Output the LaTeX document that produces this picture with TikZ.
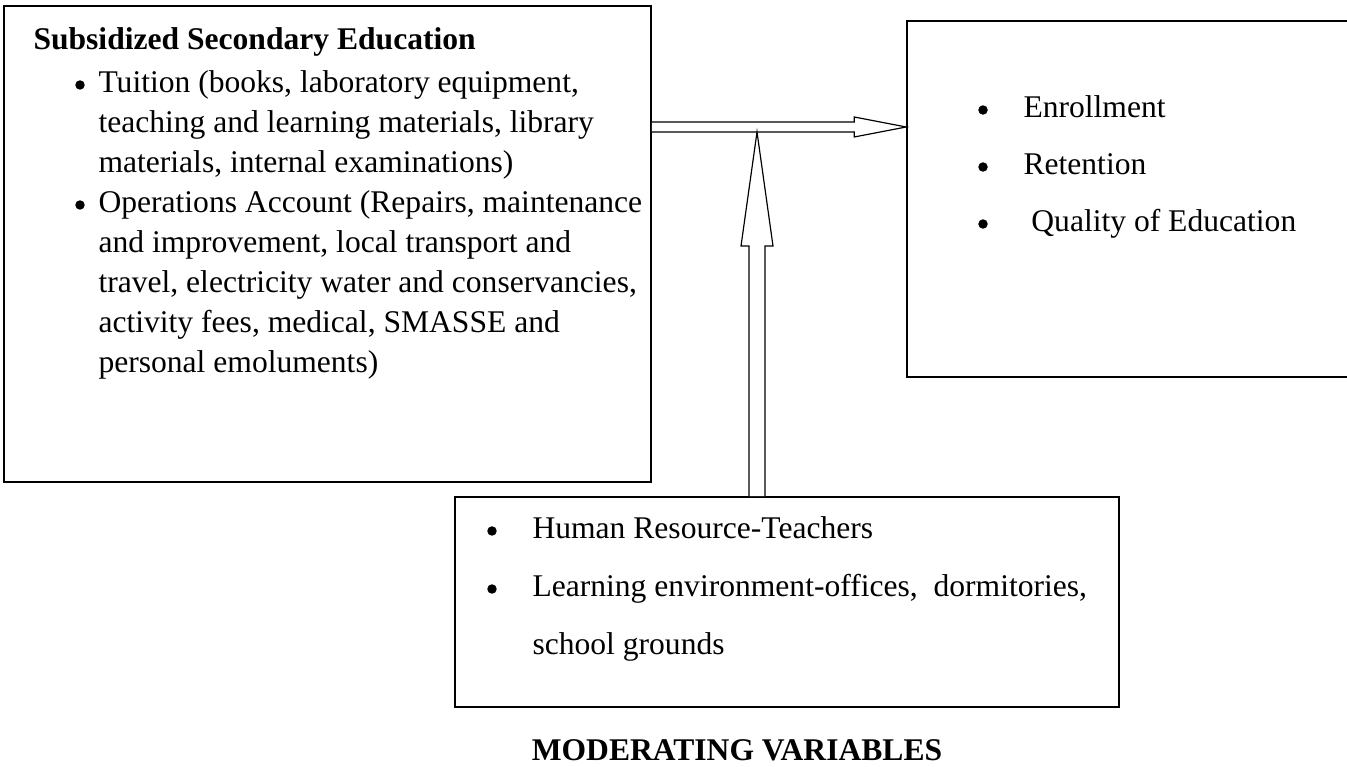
\documentclass[tikz,border=0pt]{standalone}
\usepackage{fontspec}
\setmainfont{Liberation Serif}
\usetikzlibrary{
	positioning,
	calc,
	fit
}
\tikzset{
  % box
	cstbox/.style      ={draw=black,line width=0.6pt,inner sep=0pt},
  % text
	csttext/.style     ={anchor=base west,inner sep=0pt,font=\fontsize{12}{14}\selectfont},
	csthead/.style     ={anchor=base,inner sep=0pt,font=\fontsize{12}{14}\selectfont\bfseries},
  % dot
	cstdot/.style      ={circle,fill=black,inner sep=0pt,minimum size=3.6pt},
  % arrow
	cstarrow/.style    ={draw=black,line width=0.45pt,fill=white,line join=miter}
}

\begin{document}
\begin{tikzpicture}[x=0.38pt,y=-0.38pt]
	\clip (0,0) rectangle (1347,767);
	% boxes
	\node[cstbox,fit={(4,6) (651,482)}] (left) {};
	\node[cstbox,fit={(907,21) (1380,377)}] (right) {};
	\node[cstbox,fit={(455,497) (1119,707)}] (mod) {};
	% left box
	\node[csthead,anchor=base west] (lefthead) at (33,50) {Subsidized Secondary Education};
	\foreach \txt [count=\i] in {{Tuition (books, laboratory equipment,},{teaching and learning materials, library},{materials, internal examinations)},{Operations Account (Repairs, maintenance},{and improvement, local transport and},{travel, electricity water and conservancies,},{activity fees, medical, SMASSE and},{personal emoluments)}}
		\node[csttext] (left\i) at (98,{53+40*\i}) {\txt};
	\node[cstdot] (leftdot1) at (80,85) {};
	\node[cstdot] (leftdot2) at (80,205) {};
	% right box
	\foreach \txt [count=\i] in {Enrollment,Retention,\ Quality of Education}{
		\node[csttext] (right\i) at (1023,{61+57*\i}) {\txt};
		\node[cstdot] (rightdot\i) at (983,{53+57*\i}) {};
	}
	% moderating box
	\node[csttext] (mod1) at (532,539) {Human Resource-Teachers};
	\node[csttext] (mod2) at (532,597) {Learning environment-offices, \ dormitories,};
	\node[csttext] (mod3) at (532,655) {school grounds};
	\node[cstdot] (moddot1) at (492,531) {};
	\node[cstdot] (moddot2) at (492,589) {};
	\node[csthead] (modhead) at (737,760) {MODERATING VARIABLES};
	% arrows
	\coordinate (hy) at (0,127);
	\coordinate (h0) at (left.east |- hy);
	\coordinate (h1) at (right.west |- hy);
	\draw[cstarrow] ($(h0)+(0,-5)$) -- ($(h1)+(-52,-5)$) -- ($(h1)+(-52,-10)$) -- (h1)
		-- ($(h1)+(-52,10)$) -- ($(h1)+(-52,5)$) -- ($(h0)+(0,5)$);
	\coordinate (vx) at (757,0);
	\coordinate (v0) at (vx |- mod.north);
	\coordinate (v1) at ($(vx |- hy)+(0,5)$);
	\draw[cstarrow] ($(v0)+(-8,0)$) -- ($(v1)+(-8,114)$) -- ($(v1)+(-16,114)$) -- (v1)
		-- ($(v1)+(16,114)$) -- ($(v1)+(8,114)$) -- ($(v0)+(8,0)$);
\end{tikzpicture}
\end{document}
